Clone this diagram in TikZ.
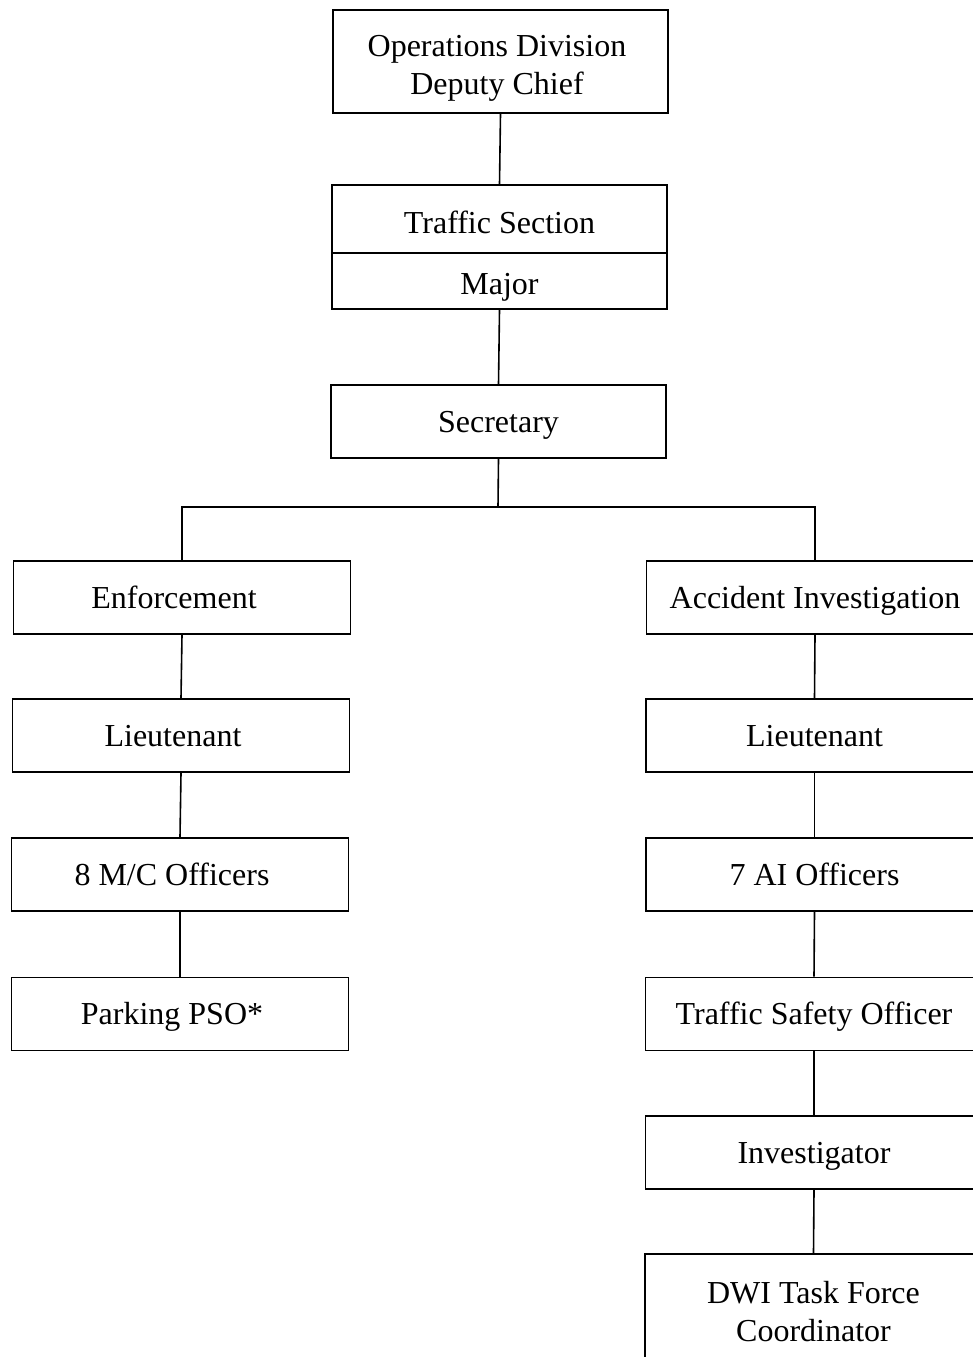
\documentclass[tikz,border=0pt]{standalone}
\usepackage{fontspec}
\setmainfont{Liberation Serif}
\begin{document}
\begin{tikzpicture}[x=1pt,y=-1pt,
  box/.style={draw=black, line width=1.8pt, fill=white, inner sep=0pt,
    minimum width=337pt, minimum height=73pt,
    font=\fontsize{32}{38.5}\selectfont, text height=28.8pt, text depth=7pt},
  mbox/.style={draw=black, line width=1.8pt, fill=white, inner sep=0pt,
    minimum width=337pt, minimum height=73pt, align=center,
    font=\fontsize{32}{38.5}\selectfont},
  txt/.style={inner sep=0pt, align=center, font=\fontsize{32}{38.5}\selectfont},
  leftcol/.style={execute at end node={\kern16pt}},
  conn/.style={draw=black, line width=1.6pt}]
\useasboundingbox (0,0) rectangle (973,1357);
\clip (0,0) rectangle (973,1357);
\fill[white] (0,0) rectangle (973,1357);
% top
\node[mbox, minimum width=335pt, minimum height=103pt] (ops) at (500.5,61.5) {};
\node[txt] (opsT) at (497,68.5) {Operations Division\\Deputy Chief};
\node[box, minimum width=335pt, minimum height=68pt, text height=36.2pt] (ts) at (499.5,219) {Traffic Section};
\node[box, minimum width=335pt, minimum height=56pt, text height=34pt] (maj) at (499.5,281) {Major};
\node[box, minimum width=335pt] (sec) at (498.5,421.5) {Secretary};
% left column
\node[box, leftcol] (enf) at (182,597.5) {Enforcement};
\node[box, leftcol] (lt1) at (181,735.5) {Lieutenant};
\node[box, leftcol] (mc) at (180,874.5) {8 M/C Officers};
\node[box, leftcol] (pso) at (180,1014) {Parking PSO*};
% right column
\node[box] (ai) at (815,597.5) {Accident Investigation};
\node[box] (lt2) at (814.5,735.5) {Lieutenant};
\node[box] (aio) at (814.5,874.5) {7 AI Officers};
\node[box] (tso) at (814,1014) {Traffic Safety Officer};
\node[box] (inv) at (814,1152.5) {Investigator};
\node[mbox, minimum height=115pt] (dwi) at (813.5,1311.5) {DWI Task Force\\Coordinator};
% connectors
\coordinate (j) at (498,507);
\draw[conn] (ops.south) -- (ts.north);
\draw[conn] (maj.south) -- (sec.north);
\draw[conn] (sec.south) -- (j);
\draw[conn] (j) -| (enf.north);
\draw[conn] (j) -| (ai.north);
\draw[conn] (enf.south) -- (lt1.north);
\draw[conn] (lt1.south) -- (mc.north);
\draw[conn] (mc.south) -- (pso.north);
\draw[conn] (ai.south) -- (lt2.north);
\draw[conn] (lt2.south) -- (aio.north);
\draw[conn] (aio.south) -- (tso.north);
\draw[conn] (tso.south) -- (inv.north);
\draw[conn] (inv.south) -- (dwi.north);
\end{tikzpicture}
\end{document}
